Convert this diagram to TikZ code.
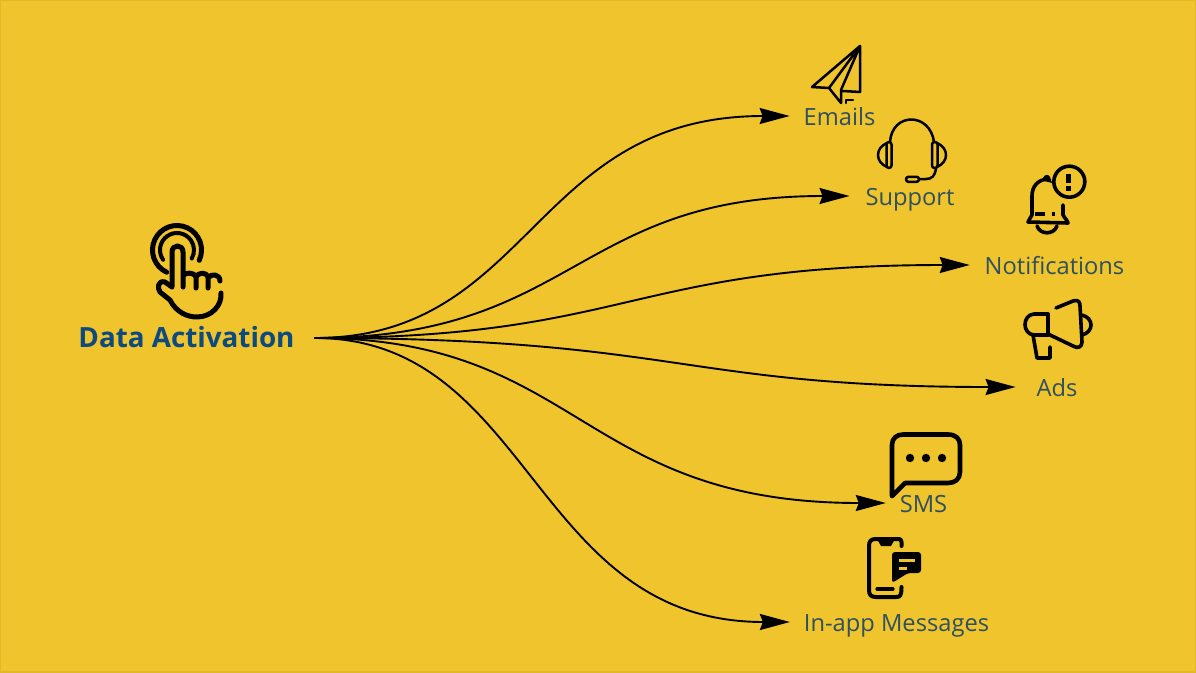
\documentclass[tikz,border=0pt]{standalone}
\usepackage{fontspec}
\setmainfont{Open Sans}
\usetikzlibrary{arrows.meta}
\definecolor{bgc}{HTML}{EFC42C}
\definecolor{lblc}{HTML}{2E5060}
\definecolor{titlec}{HTML}{0C4A80}
\tikzset{
  conn/.style={draw=black,line width=1.9pt,-{Stealth[length=30pt,width=16pt,inset=3pt]}},
  lbl/.style={text=lblc,inner sep=0pt,text height=24pt,text depth=5pt,font=\fontsize{23.7}{28}\selectfont},
  ttl/.style={text=titlec,inner sep=0pt,text height=24pt,text depth=5pt,font=\fontsize{27.8}{32}\selectfont\bfseries},
  icon/.style={draw=black,line width=3.6pt,line cap=round,line join=round},
  iconthin/.style={draw=black,line width=2.5pt,line cap=round,line join=round},
  handl/.style={draw=black,line width=5pt,line cap=round,line join=round},
}
\begin{document}
\begin{tikzpicture}[x=1pt,y=-1pt]
\useasboundingbox (0,0) rectangle (1196,672);
\fill[bgc] (0,0) rectangle (1196,672);
\draw[black!6!bgc,line width=2pt] (0,0) rectangle (1196,672);
% labels
\node[ttl,outer xsep=20pt] (title) at (186.5,338) {Data Activation};
\node[lbl,outer xsep=14pt] (emails) at (839.5,116) {Emails};
\node[lbl,outer xsep=16pt] (support) at (910,196) {Support};
\node[lbl,outer xsep=15pt] (notif) at (1054.5,265) {Notifications};
\node[lbl,outer xsep=21pt] (ads) at (1057,387) {Ads};
\node[lbl,outer xsep=14pt] (sms) at (923.5,503) {SMS};
\node[lbl,outer xsep=14pt] (inapp) at (896.5,622) {In-app Messages};
% connectors
\draw[conn] (title.east) .. controls (532,338) and (532,116) .. (emails.west);
\draw[conn] (title.east) .. controls (575,338) and (575,196) .. (support.west);
\draw[conn] (title.east) .. controls (630,338) and (630,265) .. (notif.west);
\draw[conn] (title.east) .. controls (680,338) and (680,387) .. (ads.west);
\draw[conn] (title.east) .. controls (580,338) and (580,503) .. (sms.west);
\draw[conn] (title.east) .. controls (532,338) and (532,622) .. (inapp.west);
% hand icon
\draw[handl] ([shift={(245:24.5pt)}]177,250) arc[start angle=245,end angle=-25,radius=24.5pt];
\draw[handl,line width=4pt] ([shift={(215:17pt)}]177,250) arc[start angle=215,end angle=-30,radius=17pt];
\draw[handl] (172,286) -- (172,252) .. controls (172,244) and (183,244) .. (183,252) -- (183,287)
  (183,276) .. controls (184,272) and (195,272) .. (196,277) -- (196,288)
  (196,277) .. controls (198,272) and (207,272) .. (208,277) -- (208,288)
  (208,278) .. controls (211,273) and (220,274) .. (220,281);
\draw[handl] (172,287) -- (165,282) .. controls (158,280) and (157,288) .. (160,292) -- (170,300)
  .. controls (176,312) and (187,317) .. (197,317) .. controls (212,317) and (222,305) .. (221,293);
% plane
\draw[iconthin] (860,46) -- (812,87) -- (829,88) -- (841,103) -- (841,90) -- (860,46) -- (829,88)
  (860,46) -- (860,92) -- (843,91);
\draw[iconthin] (846,103) -- (846,100) -- (853,100);
% headset
\draw[iconthin] (890,142) .. controls (892,112) and (930,112) .. (934,142);
\draw[iconthin,rounded corners=2.5pt] (886.5,142) rectangle (891.5,168);
\draw[iconthin,rounded corners=2.5pt] (932,142) rectangle (937.5,168);
\draw[iconthin] (887,143) .. controls (875,148) and (875,162) .. (887,167);
\draw[iconthin] (937,143) .. controls (949,148) and (949,162) .. (937,167);
\draw[iconthin] (936,168) .. controls (935,176) and (932,179) .. (926,179) -- (919,179);
\draw[iconthin,rounded corners=2.4pt] (906,176.8) rectangle (919,181.8);
% bell
\draw[icon] (1069.3,181.7) circle[radius=15.5pt];
\draw[icon,line cap=butt,line width=4.5pt] (1068.3,174) -- (1068.3,183);
\fill[black] (1066,186) rectangle (1070.6,190.6);
\draw[icon] (1047,179) .. controls (1038,180) and (1032,186) .. (1032,196) -- (1032,215) .. controls (1031,218) and (1028,220) .. (1028,222)
  -- (1068,223) .. controls (1066,218) and (1064,218) .. (1063,215) -- (1063,205);
\fill[black] (1043,178) .. controls (1045,174) and (1048,174) .. (1050,177) -- (1052,183) -- (1044,181) -- cycle;
\draw[icon,line width=3.2pt,line cap=butt] (1035,214) -- (1045,214) (1051.5,214) -- (1055,214);
\draw[icon] (1037,226) .. controls (1040,235) and (1054,235) .. (1057,226);
% megaphone
\draw[icon] (1056,308) -- (1073,301) .. controls (1079,299) and (1080,303) .. (1080,306) -- (1082,342) .. controls (1082,347) and (1078,349) .. (1073,346) -- (1048,334);
\draw[icon] (1048,314) -- (1048,335);
\draw[icon] (1048,314) -- (1034,314) .. controls (1022,315) and (1022,334) .. (1034,335) -- (1048,335);
\draw[icon] (1033,335) -- (1037,358) -- (1050,358) -- (1050,347);
\draw[icon] (1082,315) .. controls (1094,318) and (1094,332) .. (1082,335);
% sms
\draw[icon,line width=4.6pt] (892,496) -- (892,445) .. controls (892,438) and (897,434.5) .. (903,434.5) -- (948,434.5) .. controls (956,434.5) and (960,439) .. (960,445) -- (960,472) .. controls (960,479) and (955,483) .. (948,483) -- (905,483) -- (892,496);
\fill[black] (910,458) circle[radius=4.2pt] (926,458) circle[radius=4.2pt] (942,458) circle[radius=4.2pt];
% phone
\draw[icon,line width=4pt] (901.5,546) -- (901.5,542) .. controls (901.5,539) and (900,539) .. (898,539) -- (876,539) .. controls (871,539) and (869,541) .. (869,546) -- (869,590) .. controls (869,595) and (871,597) .. (876,597) -- (896,597) .. controls (900,597) and (901.5,596) .. (901.5,587);
\fill[black] (877,539) -- (895,539) -- (891,546) -- (881,546) -- cycle;
\draw[icon,line width=3.2pt] (877,589) -- (893,589);
\fill[black,rounded corners=3pt] (892,552) -- (921,552) -- (921,573) -- (908,573) -- (892,583) -- cycle;
\draw[bgc,line width=3pt] (899,560) -- (915,560) (899,568) -- (907,568);
\end{tikzpicture}
\end{document}
